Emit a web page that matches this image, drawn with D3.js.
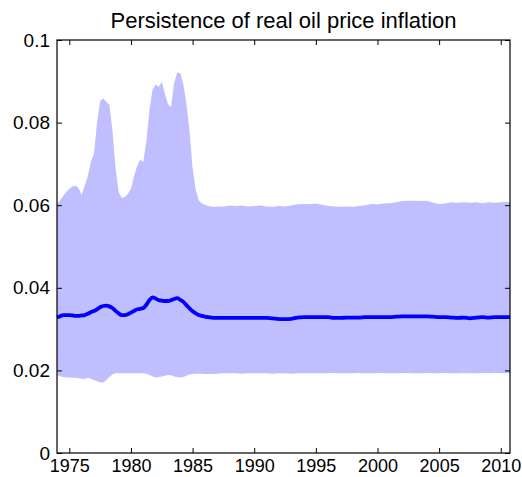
<!DOCTYPE html>
<html>
<head>
<meta charset="utf-8">
<script src="https://cdn.jsdelivr.net/npm/d3@7"></script>
<style>
  body { margin: 0; background: #fff; }
  text { font-family: "Liberation Sans", Arial, Helvetica, sans-serif; }
</style>
</head>
<body>
<div id="chart"></div>
<script>
// time points: quarterly up to 1987, half-yearly after
var dates = [
  1974.00, 1974.25, 1974.50, 1974.75,
  1975.00, 1975.25, 1975.50, 1975.75,
  1976.00, 1976.25, 1976.50, 1976.75,
  1977.00, 1977.25, 1977.50, 1977.75,
  1978.00, 1978.25, 1978.50, 1978.75,
  1979.00, 1979.25, 1979.50, 1979.75,
  1980.00, 1980.25, 1980.50, 1980.75,
  1981.00, 1981.25, 1981.50, 1981.75,
  1982.00, 1982.25, 1982.50, 1982.75,
  1983.00, 1983.25, 1983.50, 1983.75,
  1984.00, 1984.25, 1984.50, 1984.75,
  1985.00, 1985.25, 1985.50, 1985.75,
  1986.00, 1986.25, 1986.50, 1986.75,
  1987.00, 1987.5,
  1988.0, 1988.5, 1989.0, 1989.5, 1990.0, 1990.5, 1991.0, 1991.5,
  1992.0, 1992.5, 1993.0, 1993.5, 1994.0, 1994.5, 1995.0, 1995.5,
  1996.0, 1996.5, 1997.0, 1997.5, 1998.0, 1998.5, 1999.0, 1999.5,
  2000.0, 2000.5, 2001.0, 2001.5, 2002.0, 2002.5, 2003.0, 2003.5,
  2004.0, 2004.5, 2005.0, 2005.5, 2006.0, 2006.5, 2007.0, 2007.5,
  2008.0, 2008.5, 2009.0, 2009.5, 2010.0, 2010.5, 2010.75
];

// upper edge of the band
var upper = [
  0.0602, 0.0612, 0.0622, 0.0632,
  0.0640, 0.0645, 0.0648, 0.0641,
  0.0625, 0.0648, 0.0670, 0.0705,
  0.0725, 0.0800, 0.0852, 0.0859,
  0.0850, 0.0844, 0.0780, 0.0690,
  0.0632, 0.0618, 0.0620, 0.0628,
  0.0640, 0.0670, 0.0695, 0.0710,
  0.0705, 0.0755, 0.0830, 0.0880,
  0.0892, 0.0887, 0.0899, 0.0871,
  0.0845, 0.0838, 0.0895, 0.0921,
  0.0920, 0.0893, 0.0845, 0.0780,
  0.0690, 0.0638, 0.0612, 0.0604,
  0.0601, 0.0598, 0.0597, 0.0596,
  0.0597, 0.0597,
  0.0599, 0.0598, 0.0599, 0.0597, 0.0598, 0.0599, 0.0597, 0.0596,
  0.0598, 0.0597, 0.0599, 0.0602, 0.0603, 0.0602, 0.0604, 0.0601,
  0.0598, 0.0597, 0.0596, 0.0597, 0.0596, 0.0598, 0.0600, 0.0603,
  0.0602, 0.0604, 0.0605, 0.0607, 0.0610, 0.0611, 0.0611, 0.0610,
  0.0611, 0.0606, 0.0603, 0.0604, 0.0607, 0.0606, 0.0607, 0.0606,
  0.0607, 0.0605, 0.0607, 0.0606, 0.0607, 0.0608, 0.0608
];

// lower edge of the band
var lower = [
  0.0189, 0.0186, 0.0184, 0.0183,
  0.0183, 0.0182, 0.0182, 0.0181,
  0.0180, 0.0179, 0.0182, 0.0180,
  0.0177, 0.0174, 0.0171, 0.0171,
  0.0177, 0.0184, 0.0190, 0.0193,
  0.0193, 0.0193, 0.0193, 0.0193,
  0.0193, 0.0193, 0.0193, 0.0193,
  0.0193, 0.0192, 0.0189, 0.0185,
  0.0183, 0.0184, 0.0185, 0.0187,
  0.0189, 0.0188, 0.0185, 0.0184,
  0.0183, 0.0184, 0.0187, 0.0190,
  0.0191, 0.0192, 0.0192, 0.0192,
  0.0191, 0.0191, 0.0191, 0.0191,
  0.0192, 0.0193,
  0.0193, 0.0193, 0.0192, 0.0193, 0.0193, 0.0193, 0.0193, 0.0192,
  0.0193, 0.0193, 0.0192, 0.0193, 0.0193, 0.0193, 0.0193, 0.0193,
  0.0193, 0.0194, 0.0193, 0.0193, 0.0193, 0.0194, 0.0193, 0.0193,
  0.0194, 0.0193, 0.0193, 0.0193, 0.0194, 0.0194, 0.0193, 0.0193,
  0.0194, 0.0193, 0.0193, 0.0194, 0.0193, 0.0193, 0.0194, 0.0193,
  0.0193, 0.0194, 0.0193, 0.0194, 0.0194, 0.0193, 0.0194
];

// median
var median = [
  0.0328, 0.0331, 0.0334, 0.0334,
  0.0334, 0.0333, 0.0332, 0.0332,
  0.0333, 0.0334, 0.0337, 0.0341,
  0.0344, 0.0348, 0.0353, 0.0356,
  0.0357, 0.0355, 0.0351, 0.0344,
  0.0338, 0.0334, 0.0334, 0.0336,
  0.0340, 0.0344, 0.0348, 0.0349,
  0.0351, 0.0359, 0.0370, 0.0377,
  0.0374, 0.0370, 0.0369, 0.0368,
  0.0368, 0.0370, 0.0373, 0.0375,
  0.0371, 0.0366, 0.0358, 0.0350,
  0.0343, 0.0338, 0.0334, 0.0332,
  0.0330, 0.0329, 0.0328, 0.0327,
  0.0327, 0.0327,
  0.0327, 0.0327, 0.0327, 0.0327, 0.0327, 0.0327, 0.0327, 0.0326,
  0.0324, 0.0324, 0.0325, 0.0328, 0.0329, 0.0329, 0.0329, 0.0329,
  0.0329, 0.0327, 0.0327, 0.0328, 0.0328, 0.0328, 0.0329, 0.0329,
  0.0329, 0.0329, 0.0329, 0.0330, 0.0331, 0.0331, 0.0331, 0.0331,
  0.0331, 0.0330, 0.0329, 0.0329, 0.0328, 0.0327, 0.0328, 0.0326,
  0.0328, 0.0329, 0.0328, 0.0329, 0.0329, 0.0329, 0.0329
];

var xTicks = [1975, 1980, 1985, 1990, 1995, 2000, 2005, 2010];
var yTicks = [0, 0.02, 0.04, 0.06, 0.08, 0.1];
var yTickLabels = ["0", "0.02", "0.04", "0.06", "0.08", "0.1"];
var title = "Persistence of real oil price inflation";

var W = 522, H = 477;
var margin = {top: 40, right: 12, bottom: 24, left: 57};
var width = W - margin.left - margin.right,
    height = H - margin.top - margin.bottom;

var svg = d3.select("#chart").append("svg")
    .attr("width", W)
    .attr("height", H);

var g = svg.append("g")
    .attr("transform", "translate(" + margin.left + "," + margin.top + ")");

var x = d3.scaleLinear().domain([1974, 2010.75]).range([0, width]);
var y = d3.scaleLinear().domain([0, 0.1]).range([height, 0]);

var rows = dates.map(function(d, i) {
    return {date: d, lo: lower[i], mid: median[i], hi: upper[i]};
});

// band
var area = d3.area()
    .x(function(d) { return x(d.date); })
    .y0(function(d) { return y(d.lo); })
    .y1(function(d) { return y(d.hi); });

g.append("path")
    .datum(rows)
    .attr("d", area)
    .attr("fill", "#bfbfff");

// median line
var line = d3.line()
    .x(function(d) { return x(d.date); })
    .y(function(d) { return y(d.mid); })
    .curve(d3.curveMonotoneX);

g.append("path")
    .datum(rows)
    .attr("d", line)
    .attr("fill", "none")
    .attr("stroke", "#0000ff")
    .attr("stroke-width", 3.8)
    .attr("stroke-linejoin", "round");

// axes, ticks pointing inwards like matlab
var tickLen = 5;

var xAxisBottom = g.append("g")
    .attr("transform", "translate(0," + height + ")")
    .call(d3.axisBottom(x).tickValues(xTicks).tickFormat(d3.format("d"))
        .tickSizeInner(-tickLen).tickSizeOuter(0).tickPadding(6));

var xAxisTop = g.append("g")
    .call(d3.axisTop(x).tickValues(xTicks).tickFormat("")
        .tickSizeInner(-tickLen).tickSizeOuter(0));

var yAxisLeft = g.append("g")
    .call(d3.axisLeft(y).tickValues(yTicks)
        .tickFormat(function(d, i) { return yTickLabels[i]; })
        .tickSizeInner(-tickLen).tickSizeOuter(0).tickPadding(7));

var yAxisRight = g.append("g")
    .attr("transform", "translate(" + width + ",0)")
    .call(d3.axisRight(y).tickValues(yTicks).tickFormat("")
        .tickSizeInner(-tickLen).tickSizeOuter(0));

[xAxisBottom, xAxisTop, yAxisLeft, yAxisRight].forEach(function(a) {
    a.select(".domain").remove();
    a.selectAll("line").attr("stroke", "#000").attr("stroke-width", 1);
    a.selectAll("text")
        .attr("fill", "#000")
        .style("font-family", "'Liberation Sans', Arial, Helvetica, sans-serif");
});
xAxisBottom.selectAll("text").style("font-size", "18px");
yAxisLeft.selectAll("text").style("font-size", "19px");

// box
g.append("rect")
    .attr("x", 0)
    .attr("y", 0)
    .attr("width", width)
    .attr("height", height)
    .attr("fill", "none")
    .attr("stroke", "#000")
    .attr("stroke-width", 1.2);

svg.append("text")
    .attr("x", margin.left + width / 2)
    .attr("y", 28)
    .attr("text-anchor", "middle")
    .style("font-size", "22px")
    .text(title);
</script>
</body>
</html>
